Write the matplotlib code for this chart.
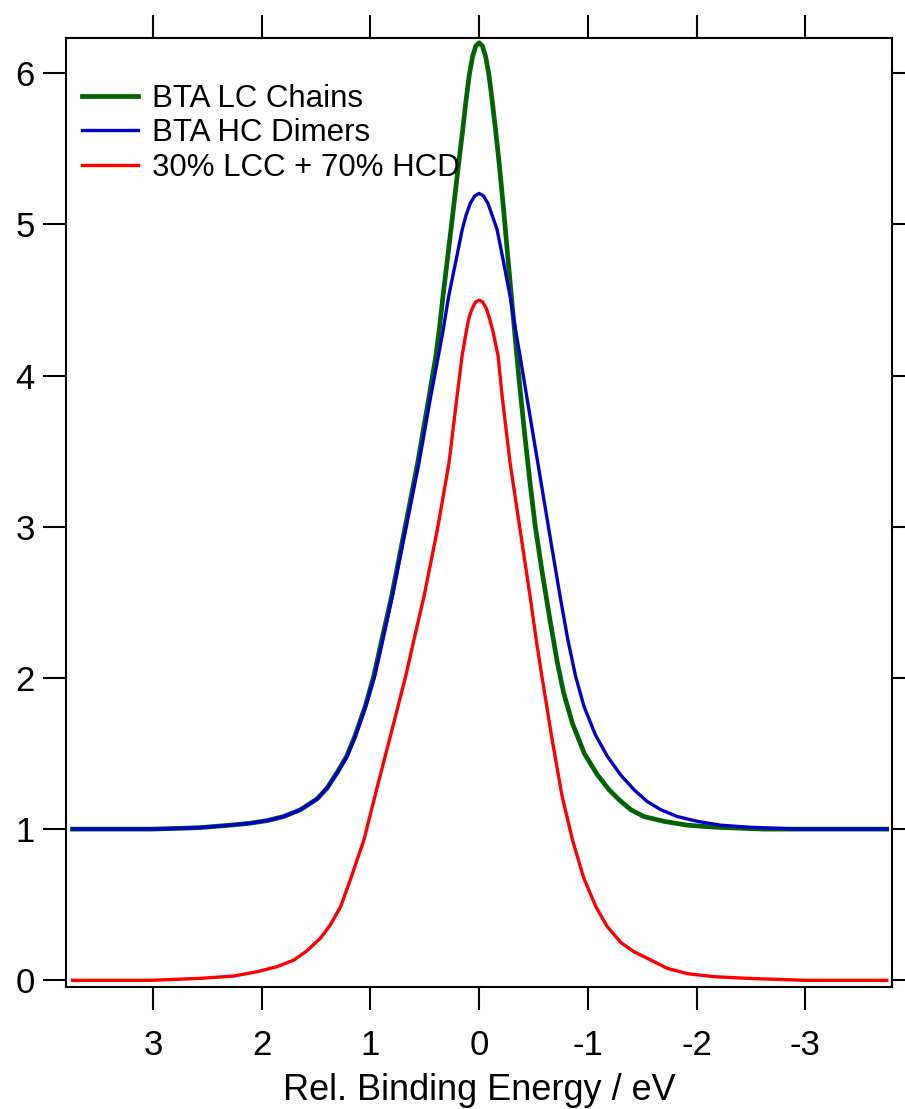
import numpy as np
import matplotlib
matplotlib.use('Agg')
import matplotlib.pyplot as plt

plt.rcParams['font.family'] = ['Liberation Sans', 'DejaVu Sans']

# BTA LC chains (offset +1)
lcc_x = [3.74, 3.02, 2.72, 2.566, 2.26, 2.106, 1.952, 1.80, 1.646, 1.49, 1.40,
         1.31, 1.22, 1.144, 1.048, 0.97, 0.895, 0.805, 0.685, 0.565, 0.46,
         0.40, 0.365, 0.333, 0.258, 0.20, 0.15, 0.12, 0.09, 0.06, 0.03, 0.0,
         -0.03, -0.06, -0.09, -0.12, -0.155, -0.185, -0.225, -0.262, -0.300,
         -0.338, -0.378, -0.421, -0.467, -0.517, -0.58, -0.648, -0.720, -0.778,
         -0.858, -0.968, -1.087, -1.196, -1.286, -1.396, -1.516, -1.703, -1.915,
         -2.163, -2.62, -3.75]
lcc_y = [1.0, 1.0, 1.006, 1.010, 1.028, 1.039, 1.056, 1.083, 1.127, 1.20, 1.27,
         1.370, 1.480, 1.612, 1.811, 2.009, 2.253, 2.539, 2.980, 3.422, 3.862,
         4.12, 4.31, 4.52, 4.97, 5.33, 5.63, 5.82, 5.99, 6.11, 6.18, 6.20,
         6.18, 6.11, 5.99, 5.82, 5.60, 5.40, 5.10, 4.80, 4.50,
         4.20, 3.90, 3.60, 3.30, 3.00, 2.70, 2.40, 2.10, 1.90,
         1.70, 1.50, 1.36, 1.26, 1.195, 1.128, 1.083, 1.051, 1.026,
         1.013, 1.0, 1.0]

# BTA HC dimers (offset +1)
hcd_x = [3.74, 3.02, 2.72, 2.566, 2.257, 2.106, 1.952, 1.797, 1.646, 1.489,
         1.40, 1.305, 1.215, 1.139, 1.043, 0.961, 0.885, 0.798, 0.676, 0.553,
         0.445, 0.375, 0.33, 0.28, 0.21, 0.155, 0.12, 0.08, 0.04, 0.0,
         -0.04, -0.08, -0.12, -0.165, -0.225, -0.285, -0.335, -0.377, -0.438,
         -0.540, -0.642, -0.745, -0.816, -0.888, -0.965, -1.07, -1.18, -1.301,
         -1.426, -1.547, -1.672, -1.823, -2.010, -2.222, -2.471, -2.931, -3.75]
hcd_y = [1.0, 1.0, 1.006, 1.010, 1.028, 1.039, 1.056, 1.083, 1.127, 1.20,
         1.27, 1.370, 1.480, 1.612, 1.811, 2.009, 2.253, 2.539, 2.980, 3.422,
         3.862, 4.127, 4.304, 4.524, 4.77, 4.966, 5.06, 5.14, 5.188, 5.204,
         5.188, 5.14, 5.06, 4.966, 4.75, 4.524, 4.304, 4.127, 3.862,
         3.422, 2.980, 2.539, 2.253, 2.009, 1.811, 1.623, 1.481, 1.359,
         1.260, 1.182, 1.128, 1.083, 1.051, 1.026, 1.013, 1.0, 1.0]

# 30% LCC + 70% HCD mixture
mix_x = [3.74, 3.024, 2.564, 2.26, 2.041, 1.86, 1.704, 1.584, 1.458, 1.369,
         1.274, 1.185, 1.060, 0.943, 0.825, 0.676, 0.599, 0.507, 0.384, 0.277,
         0.203, 0.157, 0.115, 0.09, 0.06, 0.03, 0.0, -0.03, -0.065,
         -0.095, -0.128, -0.175, -0.212, -0.285, -0.377, -0.469, -0.525,
         -0.578, -0.672, -0.764, -0.859, -0.963, -1.074, -1.179, -1.304, -1.424,
         -1.580, -1.731, -1.918, -2.160, -2.471, -3.0, -3.75]
mix_y = [0.0, 0.0, 0.013, 0.028, 0.057, 0.090, 0.134, 0.195, 0.28, 0.366,
         0.487, 0.664, 0.928, 1.261, 1.590, 2.009, 2.253, 2.539, 2.980, 3.422,
         3.862, 4.127, 4.304, 4.39, 4.45, 4.488, 4.498, 4.488, 4.445,
         4.38, 4.29, 4.127, 3.862, 3.422, 2.980, 2.539, 2.253,
         2.009, 1.590, 1.215, 0.928, 0.675, 0.487, 0.355, 0.25, 0.189,
         0.134, 0.079, 0.044, 0.024, 0.013, 0.0, 0.0]

labels = ['BTA LC Chains', 'BTA HC Dimers', '30% LCC + 70% HCD']
colors = ['#006400', '#0000CC', '#FF0000']
xticks = [3, 2, 1, 0, -1, -2, -3]
yticks = [0, 1, 2, 3, 4, 5, 6]

fig = plt.figure(figsize=(9.05, 11.09), dpi=100)
ax = fig.add_axes([0.0729, 0.1103, 0.9130, 0.8557])

ax.plot(lcc_x, lcc_y, color=colors[0], lw=3.4, label=labels[0], solid_joinstyle='round')
ax.plot(hcd_x, hcd_y, color=colors[1], lw=2.4, label=labels[1], solid_joinstyle='round')
ax.plot(mix_x, mix_y, color=colors[2], lw=2.4, label=labels[2], solid_joinstyle='round')

ax.set_xlim(3.80, -3.80)
ax.set_ylim(-0.042, 6.234)
ax.set_xticks(xticks)
ax.set_xticklabels([str(t) for t in xticks])
ax.set_yticks(yticks)

for s in ax.spines.values():
    s.set_linewidth(1.5)
ax.tick_params(direction='out', length=16.5, width=1.5, labelsize=25,
               top=True, right=True, labeltop=False, labelright=False)
ax.tick_params(axis='x', pad=14)
ax.tick_params(axis='y', pad=6)

ax.set_xlabel('Rel. Binding Energy / eV', fontsize=26, labelpad=8)

ax.legend(loc='upper left', bbox_to_anchor=(0.0, 0.9684), frameon=False,
          fontsize=22.5, handlelength=1.79, handletextpad=0.45,
          labelspacing=0.144, borderpad=0.0, borderaxespad=0.51)

fig.savefig('out.png', dpi=100)
